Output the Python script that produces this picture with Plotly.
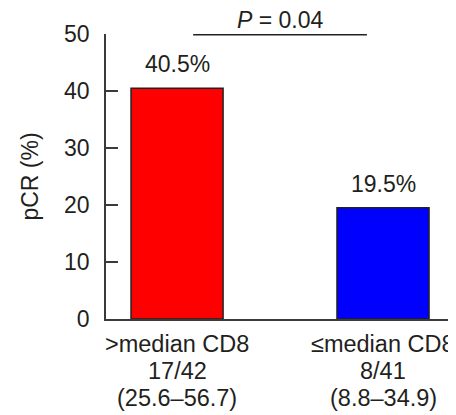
import plotly.graph_objects as go

category_names = [">median CD8", "≤median CD8"]
category_counts = ["17/42", "8/41"]
category_ci = ["(25.6–56.7)", "(8.8–34.9)"]
pcr_values = [40.5, 19.5]
bar_labels = ["40.5%", "19.5%"]
bar_colors = ["#ff0000", "#0000ff"]
y_ticks = [0, 10, 20, 30, 40, 50]
p_text = "<i>P</i> = 0.04"

FONT = "Liberation Sans, Arial, sans-serif"
FS = 23
FS_CAT = 23.5
TXT = "#231f20"
AX = "#3a3a3a"

x_pos = [0, 1]

fig = go.Figure()
fig.add_trace(go.Bar(
    x=x_pos, y=pcr_values,
    marker=dict(color=bar_colors, line=dict(color="#222222", width=1.5)),
    width=0.447,
    showlegend=False,
    hoverinfo="skip",
))

for xv, yv, lab in zip(x_pos, pcr_values, bar_labels):
    fig.add_annotation(x=xv, y=yv, text=lab, showarrow=False, xref="x", yref="y",
                       yanchor="middle", yshift=24, font=dict(size=FS, color=TXT, family=FONT))

# category labels below the axis (three lines each)
for xv, n, c, ci in zip(x_pos, category_names, category_counts, category_ci):
    for line, shift in zip([n, c, ci], [-25, -52, -79]):
        fig.add_annotation(x=xv, y=0, xref="x", yref="paper", text=line, showarrow=False,
                           yanchor="middle", yshift=shift,
                           font=dict(size=FS_CAT, color=TXT, family=FONT))

# significance bracket
fig.add_shape(type="line", xref="x", yref="paper", x0=0.078, x1=0.922, y0=0.997, y1=0.997,
              line=dict(color="#222222", width=1.5))
fig.add_annotation(x=0.5, y=1.0, xref="x", yref="paper", text=p_text, showarrow=False,
                   yanchor="middle", yshift=14, font=dict(size=FS, color=TXT, family=FONT))

# page body has an 8px default margin, so the figure is sized to fit the window
fig.update_layout(
    width=448, height=407,
    margin=dict(l=98, r=4, t=26, b=96),
    paper_bgcolor="white", plot_bgcolor="white",
    font=dict(family=FONT, size=FS, color=TXT),
    xaxis=dict(
        range=[-0.345, 1.335],
        showticklabels=False,
        showline=True, linecolor=AX, linewidth=1.5,
        ticks="", showgrid=False, zeroline=False,
        automargin=False,
    ),
    yaxis=dict(
        range=[0, 50],
        tickvals=y_ticks,
        showline=True, linecolor=AX, linewidth=1.5,
        ticks="inside", ticklen=12, tickwidth=1.5, tickcolor=AX,
        ticklabelstandoff=10,
        showgrid=False, zeroline=False,
        automargin=False,
        title=dict(text="pCR (%)", font=dict(size=FS, color=TXT, family=FONT), standoff=19),
        tickfont=dict(size=FS, color=TXT, family=FONT),
    ),
)

fig.write_html("out.html")
